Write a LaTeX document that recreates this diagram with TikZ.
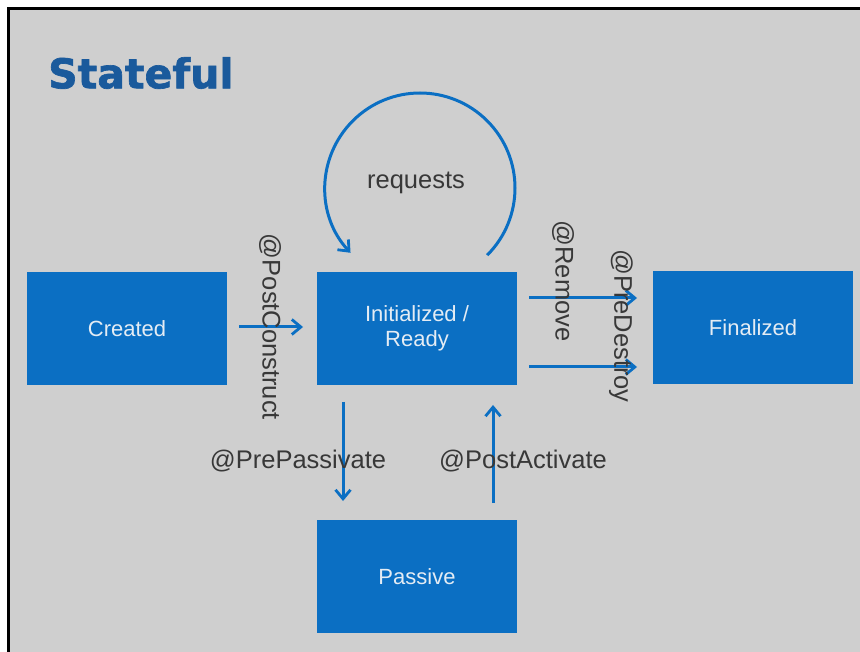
\documentclass[tikz,border=0pt]{standalone}
\usepackage{fontspec}
\setmainfont{Liberation Sans}
\newfontfamily\titlefont[BoldFeatures={FakeBold=1.6}]{DejaVu Sans}
\usetikzlibrary{arrows.meta}
\definecolor{slidebg}{HTML}{CFCFCF}
\definecolor{boxblue}{HTML}{0B6FC3}
\definecolor{titleblue}{HTML}{1A5A9C}
\definecolor{labelgrey}{HTML}{383838}
\definecolor{boxtext}{HTML}{E4ECF4}
\begin{document}
\begin{tikzpicture}[x=1pt,y=-1pt,
  state/.style={fill=boxblue, draw=none, minimum width=200pt, minimum height=113pt,
    inner sep=0pt, text=boxtext, align=center,
    font=\fontsize{22}{25}\selectfont},
  trans/.style={draw=boxblue, line width=3pt,
    -{Straight Barb[length=9pt,width=15pt,line width=2.8pt]}},
  lbl/.style={text=labelgrey, inner sep=0pt, font=\fontsize{25.5}{30}\selectfont}]
  % page and slide frame
  \useasboundingbox (0,0) rectangle (860,652);
  \fill[white] (0,0) rectangle (860,652);
  \fill[slidebg] (8,9) rectangle (860,652);
  \draw[black, line width=3pt] (8,652) -- (8,9) -- (860,9);

  % title
  \node[anchor=west, inner sep=0pt, text=titleblue,
        font=\titlefont\bfseries\fontsize{41}{46}\selectfont] (title) at (48,73) {Stateful};

  % states
  \node[state] (created) at (127,328.5) {Created};
  \node[state] (ready)   at (417,328.5) {Initialized /\\Ready};
  \node[state] (final)   at (753,327.5) {Finalized};
  \node[state] (passive) at (417,576.5) {Passive};

  % transition end points
  \coordinate (pcA) at (239,327);  \coordinate (pcB) at (303,327);
  \coordinate (rmA) at (529,298);  \coordinate (rmB) at (637,298);
  \coordinate (pdA) at (529,367);  \coordinate (pdB) at (637,367);
  \coordinate (ppA) at (343,402);  \coordinate (ppB) at (343,501);
  \coordinate (paA) at (493,503);  \coordinate (paB) at (493,405);

  \draw[trans] (pcA) -- (pcB);
  \draw[trans] (rmA) -- (rmB);
  \draw[trans] (pdA) -- (pdB);
  \draw[trans] (ppA) -- (ppB);
  \draw[trans] (paA) -- (paB);

  % self loop on the ready state (y axis points down, so angles run clockwise)
  \coordinate (loopc) at (420,188);
  \draw[trans] ([shift={(45:95)}]loopc) arc[start angle=45, end angle=-223, radius=95];

  % labels
  \node[lbl] (reqlbl) at (416,183) {requests};
  \node[lbl, rotate=-90] (pclbl) at (270,327) {@PostConstruct};
  \node[lbl, rotate=-90] (rmlbl) at (563,281) {@Remove};
  \node[lbl, rotate=-90] (pdlbl) at (621,326) {@PreDestroy};
  \node[lbl] (pplbl) at (298,461) {@PrePassivate};
  \node[lbl] (palbl) at (523,461) {@PostActivate};
\end{tikzpicture}
\end{document}
